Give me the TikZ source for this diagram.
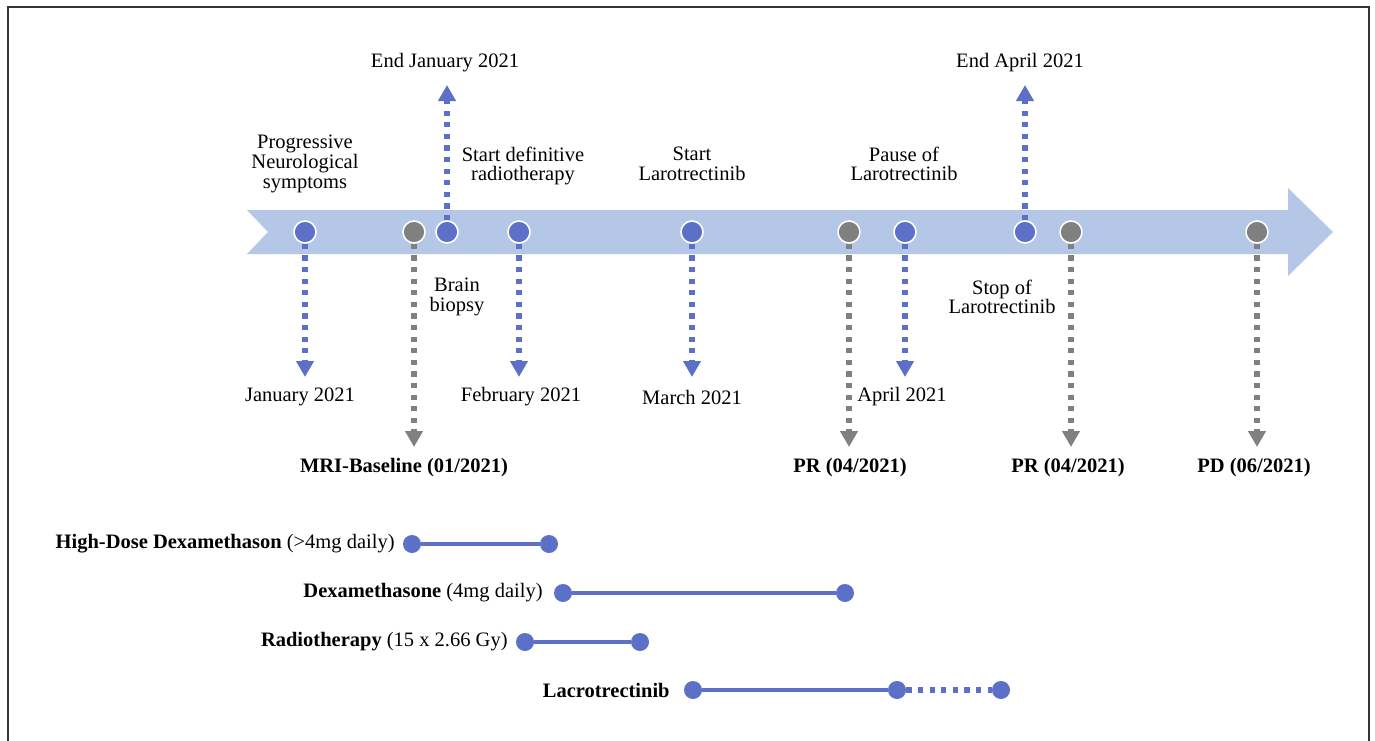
\documentclass[tikz,border=0pt]{standalone}
\usepackage{fontspec}
\setmainfont{Liberation Serif}
\usetikzlibrary{arrows.meta,calc}
\definecolor{evblue}{RGB}{93,112,199}
\definecolor{evgray}{RGB}{128,128,128}
\definecolor{bandblue}{RGB}{180,199,231}
\tikzset{
  event/.style={circle,fill=#1,draw=white,line width=0.8pt,minimum size=11pt,inner sep=0pt},
  pointer/.style={#1,line width=2.7pt,dash pattern=on 2.6pt off 3.2pt,-{Triangle[width=8.5pt,length=8pt]}},
  lbl/.style={inner sep=0pt,align=center,font=\fontsize{10.25}{9.8}\selectfont},
  period/.style={evblue,line width=2.3pt},
  pdot/.style={circle,fill=evblue,minimum size=9pt,inner sep=0pt},
}
\begin{document}
\begin{tikzpicture}[x=0.5pt,y=-0.5pt]
\useasboundingbox (0,0) rectangle (1375,740);
\draw[line width=0.8pt,black!80] (8,750) -- (8,7) -- (1369,7) -- (1369,750);

\fill[bandblue] (247,210) -- (1288,210) -- (1288,188) -- (1333,232) -- (1288,276) -- (1288,254) -- (247,254) -- (268,232) -- cycle;

\node[event=evblue] (prog) at (305,232) {};
\node[event=evgray] (biop) at (414,232) {};
\node[event=evblue] (endjan) at (447,232) {};
\node[event=evblue] (rad) at (519,232) {};
\node[event=evblue] (laro) at (692,232) {};
\node[event=evgray] (pr1) at (849,232) {};
\node[event=evblue] (pause) at (905,232) {};
\node[event=evblue] (endapr) at (1025,232) {};
\node[event=evgray] (pr2) at (1071,232) {};
\node[event=evgray] (pd) at (1257,232) {};

\coordinate (progend) at (305,377);
\coordinate (biopend) at (414,447);
\coordinate (endjanend) at (447,85);
\coordinate (radend) at (519,377);
\coordinate (laroend) at (692,377);
\coordinate (pr1end) at (849,447);
\coordinate (pauseend) at (905,377);
\coordinate (endaprend) at (1025,85);
\coordinate (pr2end) at (1071,447);
\coordinate (pdend) at (1257,447);

\draw[pointer=evblue] (prog) -- (progend);
\draw[pointer=evgray] (biop) -- (biopend);
\draw[pointer=evblue] (endjan) -- (endjanend);
\draw[pointer=evblue] (rad) -- (radend);
\draw[pointer=evblue] (laro) -- (laroend);
\draw[pointer=evgray] (pr1) -- (pr1end);
\draw[pointer=evblue] (pause) -- (pauseend);
\draw[pointer=evblue] (endapr) -- (endaprend);
\draw[pointer=evgray] (pr2) -- (pr2end);
\draw[pointer=evgray] (pd) -- (pdend);

\node[lbl] (progtxt) at (305,164) {Progressive\\Neurological\\symptoms};
\node[lbl] (endjantxt) at (445,63) {End January 2021};
\node[lbl] (radtxt) at (523,166) {Start definitive\\radiotherapy};
\node[lbl] (larotxt) at (692,164) {Start\\Larotrectinib};
\node[lbl] (pausetxt) at (904,164) {Pause of\\Larotrectinib};
\node[lbl] (endaprtxt) at (1020,63) {End April 2021};
\node[lbl] (bioptxt) at (457,297) {Brain\\biopsy};
\node[lbl] (stoptxt) at (1002,297) {Stop of\\Larotrectinib};

\node[lbl] (jantxt) at (300,397) {January 2021};
\node[lbl] (febtxt) at (521,397) {February 2021};
\node[lbl] (martxt) at (692,397) {March 2021};
\node[lbl] (aprtxt) at (902,397) {April 2021};

\node[lbl,font=\fontsize{10.25}{9.8}\selectfont\bfseries] (mritxt) at (404,468) {MRI-Baseline (01/2021)};
\node[lbl,font=\fontsize{10.25}{9.8}\selectfont\bfseries] (pr1txt) at (850,468) {PR (04/2021)};
\node[lbl,font=\fontsize{10.25}{9.8}\selectfont\bfseries] (pr2txt) at (1068,468) {PR (04/2021)};
\node[lbl,font=\fontsize{10.25}{9.8}\selectfont\bfseries] (pdtxt) at (1254,468) {PD (06/2021)};

\node[pdot] (hd1) at (412,544) {};
\node[pdot] (hd2) at (549,544) {};
\draw[period] (hd1) -- (hd2);
\node[lbl,anchor=east] (hdtxt) at ($(hd1)-(17,0)$) {\textbf{High-Dose Dexamethason} (>4mg daily)};

\node[pdot] (dx1) at (563,593) {};
\node[pdot] (dx2) at (845,593) {};
\draw[period] (dx1) -- (dx2);
\node[lbl,anchor=east] (dxtxt) at ($(dx1)-(20,0)$) {\textbf{Dexamethasone} (4mg daily)};

\node[pdot] (rt1) at (525,642) {};
\node[pdot] (rt2) at (640,642) {};
\draw[period] (rt1) -- (rt2);
\node[lbl,anchor=east] (rttxt) at ($(rt1)-(17,0)$) {\textbf{Radiotherapy} (15 x 2.66 Gy)};

\node[pdot] (la1) at (693,690) {};
\node[pdot] (la2) at (897,690) {};
\node[pdot] (la3) at (1001,690) {};
\draw[period] (la1) -- (la2);
\draw[period,line width=2.6pt,dash pattern=on 2.6pt off 3.2pt] (la2) -- (la3);
\node[lbl,anchor=east] (latxt) at ($(la1)-(23,0)$) {\textbf{Lacrotrectinib}};

\end{tikzpicture}
\end{document}
